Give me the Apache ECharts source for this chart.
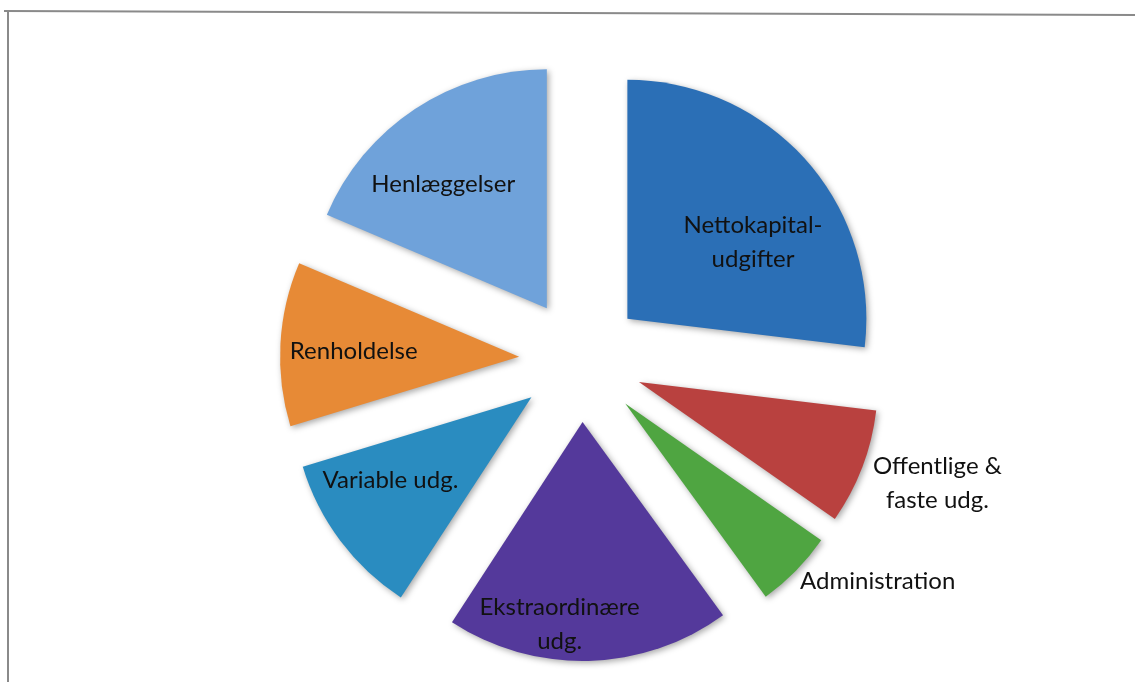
<!DOCTYPE html>
<html>
<head>
<meta charset="utf-8">
<script src="https://cdn.jsdelivr.net/npm/echarts@6/dist/echarts.min.js"></script>
<style>
html,body{margin:0;padding:0;background:#fff;}
#c{width:1135px;height:682px;}
</style>
</head>
<body>
<div id="c"></div>
<script>
// Categories (clockwise from 12 o'clock) and their shares (estimated, %)
const categories = ['Nettokapital-\nudgifter', 'Offentlige &\nfaste udg.', 'Administration', 'Ekstraordinære\nudg.', 'Variable udg.', 'Renholdelse', 'Henlæggelser'];
const values = [26.9, 7.8, 5.3, 19.2, 11.1, 11.1, 18.6];
const colors = ['#2b6fb6', '#b9413f', '#4fa541', '#54399b', '#2a8cc0', '#e78a36', '#6fa2da'];
// label nudges relative to ECharts' inside position
const labelShift = [[34, 5], [184, 58], [165, 92], [-26, 80], [-43, 9], [-43, 1], [-36, -22]];

const chart = echarts.init(document.getElementById('c'));
const data = categories.map((n, i) => ({
  name: n,
  value: values[i],
  selected: true,
  itemStyle: { color: colors[i] }
}));

chart.setOption({
  animation: false,
  backgroundColor: '#ffffff',
  graphic: [
    { type: 'line', shape: { x1: 4, y1: 11, x2: 1135, y2: 15 }, style: { stroke: '#8a8a8a', lineWidth: 2 }, silent: true },
    { type: 'line', shape: { x1: 8, y1: 11, x2: 8, y2: 682 }, style: { stroke: '#8a8a8a', lineWidth: 2 }, silent: true }
  ],
  series: [{
    type: 'pie',
    center: [581, 360],
    radius: [0, 239],
    startAngle: 90,
    clockwise: true,
    selectedMode: 'multiple',
    selectedOffset: 62,
    avoidLabelOverlap: false,
    itemStyle: {
      shadowBlur: 6,
      shadowColor: 'rgba(0,0,0,0.35)',
      shadowOffsetX: 2,
      shadowOffsetY: 2
    },
    select: { itemStyle: { borderWidth: 0 } },
    emphasis: { disabled: true },
    label: {
      show: true,
      position: 'inside',
      color: '#111111',
      fontFamily: 'Lato',
      fontSize: 24,
      lineHeight: 34,
      align: 'center'
    },
    labelLine: { show: false },
    labelLayout: function (p) {
      const s = labelShift[p.dataIndex];
      return { dx: s[0], dy: s[1] };
    },
    data: data
  }]
});
</script>
</body>
</html>
